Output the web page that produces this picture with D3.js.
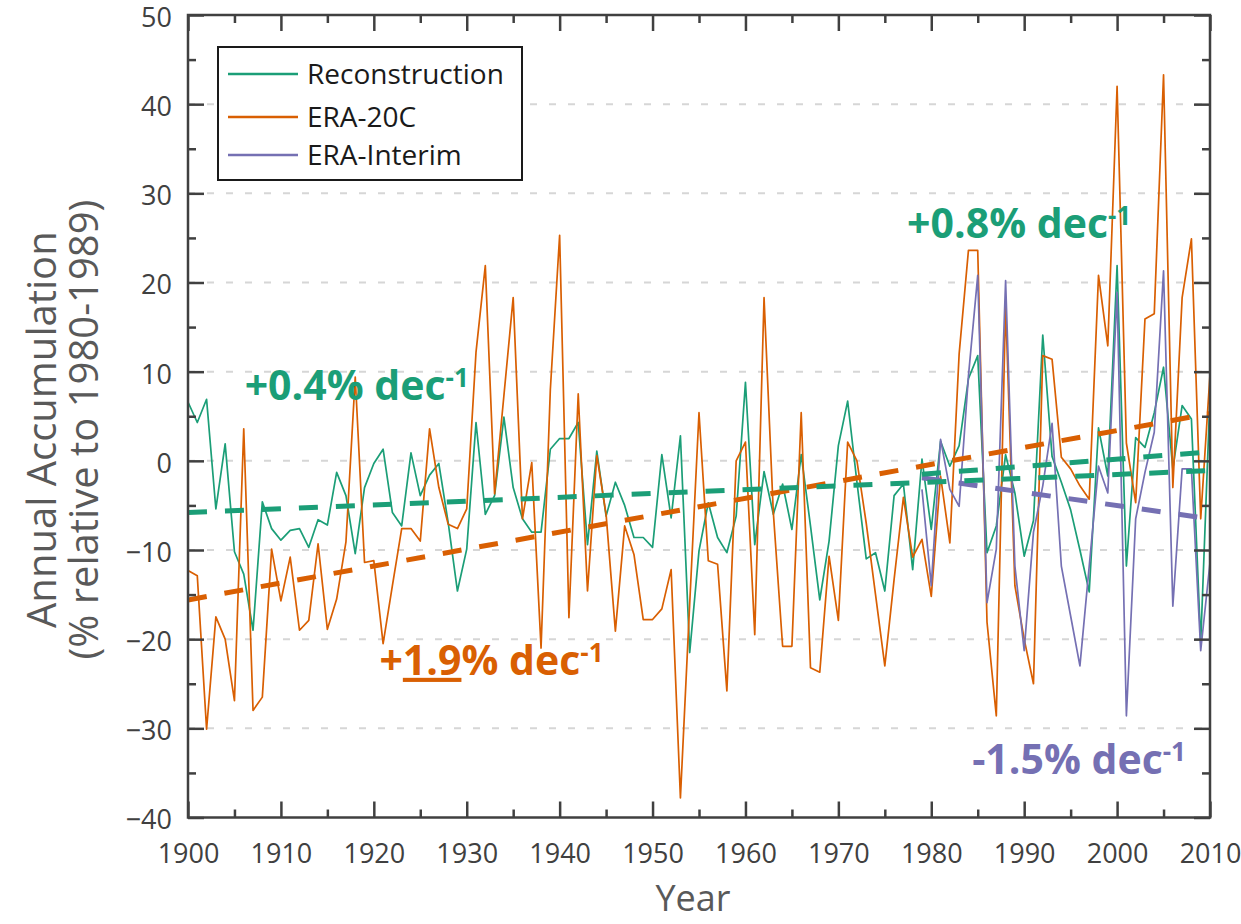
<!DOCTYPE html>
<html>
<head>
<meta charset="utf-8">
<script src="https://cdn.jsdelivr.net/npm/d3@7"></script>
<style>
  body { margin: 0; background: #fff; }
  svg { display: block; font-family: "Open Sans", sans-serif; }
</style>
</head>
<body>
<script>
// ---- data ----
var firstYear = 1900;

var reconstruction = [
  6.6, 4.3, 6.9, -5.4, 1.9, -10.2, -12.7, -19.0, -4.6, -7.6,
  -8.9, -7.8, -7.6, -9.7, -6.6, -7.2, -1.3, -3.9, -10.4, -3.0,
  -0.3, 1.3, -5.8, -7.3, 0.9, -3.9, -1.6, -0.3, -6.9, -14.6,
  -9.9, 4.3, -6.0, -3.9, 4.9, -3.0, -6.5, -8.0, -8.0, 1.3,
  2.5, 2.5, 4.3, -9.4, 1.1, -6.2, -2.4, -5.0, -8.6, -8.6,
  -9.7, 0.7, -6.4, 2.8, -21.5, -10.1, -4.7, -8.6, -10.3, -6.2,
  8.8, -9.4, -1.2, -6.0, -2.6, -7.7, 0.7, -7.3, -15.6, -9.0,
  1.7, 6.7, -2.4, -11.0, -10.3, -14.6, -3.9, -2.6, -12.2, 0.2,
  -7.7, 2.2, -0.6, 1.7, 9.2, 11.8, -10.3, -7.3, 0.7, -3.6,
  -10.7, -6.7, 14.1, 0.5, -2.4, -5.5, -10.0, -14.7, 3.7, -1.7,
  21.9, -11.8, 2.6, 1.5, 5.4, 10.5, -0.9, 6.2, 4.7, -20.4, 7.3
];

var era20c = [
  -12.3, -12.9, -30.1, -17.5, -20.0, -26.9, 3.6, -28.0, -26.5, -9.9,
  -15.7, -10.8, -19.0, -17.9, -9.3, -18.9, -15.5, -9.1, 9.4, -11.4,
  -11.2, -20.5, -14.0, -7.6, -7.6, -9.0, 3.6, -3.0, -7.1, -7.6,
  -5.4, 12.2, 21.9, -3.7, 7.3, 18.3, -6.5, -0.2, -21.0, 8.0,
  25.3, -17.6, 7.5, -14.6, 0.6, -6.0, -19.1, -7.3, -10.5, -17.8,
  -17.8, -16.6, -12.2, -37.8, -16.0, 5.4, -11.2, -11.6, -25.8, 0.0,
  2.1, -19.5, 18.3, -5.8, -20.8, -20.8, 5.4, -23.2, -23.7, -10.7,
  -17.9, 2.1, 0.0, -7.0, -15.0, -23.0, -13.3, -4.1, -10.8, -8.8,
  -15.2, -1.7, -9.2, 12.0, 23.6, 23.6, -18.1, -28.6, 17.5, -14.0,
  -20.0, -25.0, 11.8, 11.4, 0.4, -0.9, -2.8, -4.3, 20.8, 12.9,
  42.0, 2.0, -4.7, 15.9, 16.5, 43.3, -3.0, 18.3, 24.9, -6.5, 9.7
];

var interimStart = 1979;
var eraInterim = [
  -3.2, -14.0, 2.4, -3.2, -5.1, 9.5, 20.8, -15.9, -9.9, 20.2,
  -11.8, -21.3, -8.0, -2.8, 4.2, -11.8, -17.4, -23.0, -11.8, -0.6,
  -3.6, 18.9, -28.6, -6.5, -1.3, 3.2, 21.3, -16.3, -0.9, -0.9,
  -21.3, -11.4
];

// linear trends (start/end year, start/end value)
var trendColors = ["#d95f02", "#7570b3", "#1b9e77", "#1b9e77"];
var trendYears  = [[1900, 2010], [1979, 2010], [1900, 2010], [1979, 2010]];
var trendValues = [[-15.6, 5.3], [-1.9, -6.5], [-5.8, -1.1], [-1.5, 1.0]];

// trend annotations, anchored at (year, value) of their baseline start
var noteTexts  = ["+0.4% dec", "+0.8% dec", "+1.9% dec", "-1.5% dec"];
var noteColors = ["#1b9e77", "#1b9e77", "#d95f02", "#7570b3"];
var noteYears  = [1906.1, 1977.4, 1920.6, 1984.4];
var noteValues = [6.8, 25.0, -24.0, -35.1];

var legendNames  = ["Reconstruction", "ERA-20C", "ERA-Interim"];
var seriesColors = ["#1b9e77", "#d95f02", "#7570b3"];

var yTicks = [-40, -30, -20, -10, 0, 10, 20, 30, 40, 50];
var yMinorTicks = [-35, -25, -15, -5, 5, 15, 25, 35, 45];
var gridValues = [-30, -20, -10, 0, 10, 20, 30, 40];
var xTicks = [1900, 1910, 1920, 1930, 1940, 1950, 1960, 1970, 1980, 1990, 2000, 2010];
var xMinorTicks = [1905, 1915, 1925, 1935, 1945, 1955, 1965, 1975, 1985, 1995, 2005];

// ---- layout ----
var W = 1241, H = 924;
var margin = { top: 15, right: 31, bottom: 106.5, left: 188 };
var width = W - margin.left - margin.right;
var height = H - margin.top - margin.bottom;

var svg = d3.select("body").append("svg")
    .attr("width", W)
    .attr("height", H);

var g = svg.append("g")
    .attr("transform", "translate(" + margin.left + "," + margin.top + ")");

var x = d3.scaleLinear().domain([1900, 2010]).range([0, width]);
var y = d3.scaleLinear().domain([-40, 50]).range([height, 0]);

g.append("clipPath").attr("id", "plot")
  .append("rect").attr("width", width).attr("height", height);

// gridlines
g.selectAll(".grid")
    .data(gridValues)
    .enter().append("line")
    .attr("class", "grid")
    .attr("x1", 0).attr("x2", width)
    .attr("y1", function (d) { return y(d); })
    .attr("y2", function (d) { return y(d); })
    .attr("stroke", "#d6d6d6")
    .attr("stroke-width", 2)
    .attr("stroke-dasharray", "7,12");

var plot = g.append("g").attr("clip-path", "url(#plot)");

function seriesLine(start) {
    return d3.line()
        .x(function (d, i) { return x(start + i); })
        .y(function (d) { return y(d); });
}

var allSeries = [
    { values: reconstruction, start: firstYear },
    { values: era20c, start: firstYear },
    { values: eraInterim, start: interimStart }
];

allSeries.forEach(function (s, k) {
    plot.append("path")
        .datum(s.values)
        .attr("fill", "none")
        .attr("stroke", seriesColors[k])
        .attr("stroke-width", 1.7)
        .attr("stroke-linejoin", "round")
        .attr("d", seriesLine(s.start));
});

// dashed trends
trendYears.forEach(function (ty, k) {
    plot.append("line")
        .attr("x1", x(ty[0])).attr("x2", x(ty[1]))
        .attr("y1", y(trendValues[k][0])).attr("y2", y(trendValues[k][1]))
        .attr("stroke", trendColors[k])
        .attr("stroke-width", 5)
        .attr("stroke-dasharray", "19,18");
});

// ---- axes ----
var axisColor = "#404040";

function styleAxis(sel) {
    sel.select(".domain").remove();
    sel.selectAll(".tick line").attr("stroke", axisColor).attr("stroke-width", 2.5);
    sel.selectAll(".tick text")
        .attr("fill", axisColor)
        .style("font-family", "'Open Sans', sans-serif")
        .style("font-size", "27px");
}

g.append("g")
    .call(d3.axisLeft(y).tickValues(yTicks).tickSize(-16).tickPadding(16))
    .call(styleAxis)
    .selectAll(".tick text").attr("dy", "0.42em");
g.append("g")
    .call(d3.axisLeft(y).tickValues(yMinorTicks).tickSize(-8).tickFormat(""))
    .call(styleAxis);
g.append("g").attr("transform", "translate(" + width + ",0)")
    .call(d3.axisRight(y).tickValues(yTicks).tickSize(-16).tickFormat(""))
    .call(styleAxis);
g.append("g").attr("transform", "translate(" + width + ",0)")
    .call(d3.axisRight(y).tickValues(yMinorTicks).tickSize(-8).tickFormat(""))
    .call(styleAxis);

g.append("g").attr("transform", "translate(0," + height + ")")
    .call(d3.axisBottom(x).tickValues(xTicks).tickSize(-16).tickPadding(26).tickFormat(d3.format("d")))
    .call(styleAxis);
g.append("g").attr("transform", "translate(0," + height + ")")
    .call(d3.axisBottom(x).tickValues(xMinorTicks).tickSize(-8).tickFormat(""))
    .call(styleAxis);
g.append("g")
    .call(d3.axisTop(x).tickValues(xTicks).tickSize(-16).tickFormat(""))
    .call(styleAxis);
g.append("g")
    .call(d3.axisTop(x).tickValues(xMinorTicks).tickSize(-8).tickFormat(""))
    .call(styleAxis);

g.append("rect")
    .attr("width", width).attr("height", height)
    .attr("fill", "none")
    .attr("stroke", axisColor)
    .attr("stroke-width", 2.5);

// axis titles
svg.append("text")
    .attr("x", margin.left + width / 2 - 6)
    .attr("y", 911)
    .attr("text-anchor", "middle")
    .attr("fill", "#595959")
    .style("font-size", "36px")
    .text("Year");

var ytitle = svg.append("text")
    .attr("transform", "translate(56," + (margin.top + y(3.5)) + ") rotate(-90)")
    .attr("text-anchor", "middle")
    .attr("fill", "#595959")
    .style("font-size", "40px");
ytitle.append("tspan").attr("x", 0).attr("y", 0).text("Annual Accumulation");
ytitle.append("tspan").attr("x", 0).attr("y", 42).text("(% relative to 1980-1989)");

// ---- trend annotations ----
noteTexts.forEach(function (t, k) {
    var txt = g.append("text")
        .attr("x", x(noteYears[k]))
        .attr("y", y(noteValues[k]))
        .attr("fill", noteColors[k])
        .style("font-size", "41px")
        .style("font-weight", "bold");
    if (k === 2) {
        txt.append("tspan").text("+");
        txt.append("tspan").style("text-decoration", "underline").text("1.9");
        txt.append("tspan").text("% dec");
    } else {
        txt.append("tspan").text(t);
    }
    txt.append("tspan")
        .attr("dy", -13)
        .style("font-size", "26px")
        .text("-1");
});

// ---- legend ----
var legend = svg.append("g").attr("transform", "translate(218,47)");
legend.append("rect")
    .attr("width", 304).attr("height", 133)
    .attr("fill", "#fff")
    .attr("stroke", "#1a1a1a")
    .attr("stroke-width", 2);

var rowY = [27, 70, 108];
legendNames.forEach(function (name, k) {
    legend.append("line")
        .attr("x1", 10).attr("x2", 80)
        .attr("y1", rowY[k]).attr("y2", rowY[k])
        .attr("stroke", seriesColors[k])
        .attr("stroke-width", 2.5);
    legend.append("text")
        .attr("x", 89)
        .attr("y", rowY[k])
        .attr("dy", "0.36em")
        .attr("fill", "#1a1a1a")
        .style("font-size", "28px")
        .text(name);
});
</script>
</body>
</html>
